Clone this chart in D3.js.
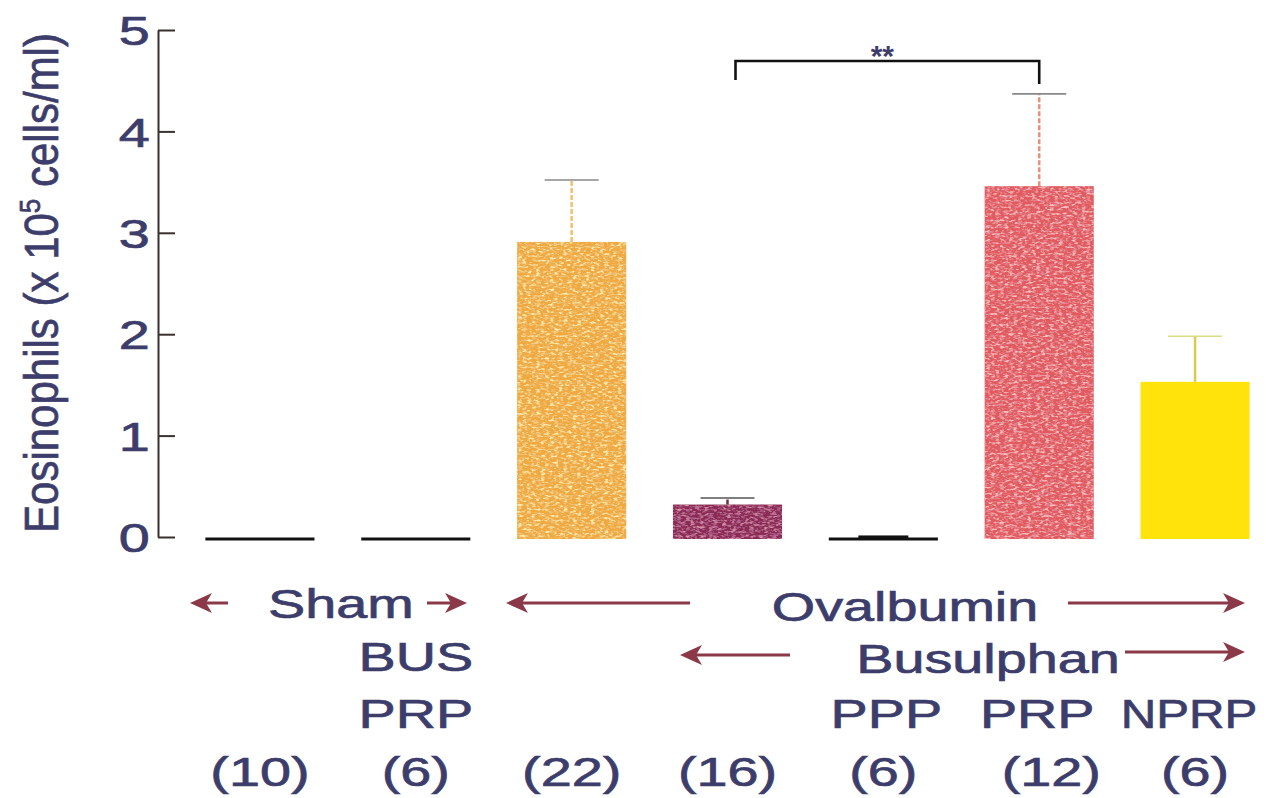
<!DOCTYPE html>
<html>
<head>
<meta charset="utf-8">
<script src="https://cdn.jsdelivr.net/npm/d3@7/dist/d3.min.js"></script>
<style>
  html, body { margin: 0; padding: 0; background: #ffffff; }
  svg { display: block; }
  text { font-family: "Liberation Sans", Arial, sans-serif; }
</style>
</head>
<body>
<svg id="chart" width="1272" height="798"></svg>
<script>
// ---------------- data ----------------
const groups = ["Sham", "Sham BUS PRP", "Ovalbumin", "OVA Busulphan", "OVA BUS PPP", "OVA BUS PRP", "OVA BUS NPRP"];
const means  = [0.01, 0.005, 2.91, 0.32, 0.02, 3.46, 1.53];
const errs   = [0.0, 0.0, 0.61, 0.065, 0.015, 0.91, 0.45];
const counts = ["(10)", "(6)", "(22)", "(16)", "(6)", "(12)", "(6)"];
const yTicks = [0, 1, 2, 3, 4, 5];
const sigPair = [3, 5];
const sigLabel = "**";

// ---------------- layout ----------------
const svg = d3.select("#chart");
const X0 = 158, Y0 = 537, Y5 = 30;
const STRETCH = 1.36;
const navy = "#3d3d6b";
const maroon = "#8b3848";

const x = d3.scaleBand().domain(d3.range(groups.length)).range([182, 1273])
  .paddingInner(0.3).paddingOuter(0.15);
const y = d3.scaleLinear().domain([0, 5]).range([Y0, Y5]);

// filters for speckled textures
const defs = svg.append("defs");
function speckle(id, light, dark, freq, seedA, seedB) {
  const f = defs.append("filter").attr("id", id)
    .attr("x", 0).attr("y", 0).attr("width", 1).attr("height", 1);
  f.append("feTurbulence").attr("type", "fractalNoise").attr("baseFrequency", freq)
    .attr("numOctaves", 2).attr("seed", seedA).attr("result", "n1");
  f.append("feColorMatrix").attr("in", "n1").attr("type", "matrix")
    .attr("values", `0 0 0 0 ${light[0]}  0 0 0 0 ${light[1]}  0 0 0 0 ${light[2]}  4 0 0 0 -2.0`)
    .attr("result", "l1");
  f.append("feComposite").attr("in", "l1").attr("in2", "SourceGraphic").attr("operator", "in").attr("result", "l2");
  f.append("feTurbulence").attr("type", "fractalNoise").attr("baseFrequency", freq)
    .attr("numOctaves", 2).attr("seed", seedB).attr("result", "n2");
  f.append("feColorMatrix").attr("in", "n2").attr("type", "matrix")
    .attr("values", `0 0 0 0 ${dark[0]}  0 0 0 0 ${dark[1]}  0 0 0 0 ${dark[2]}  4 0 0 0 -2.1`)
    .attr("result", "d1");
  f.append("feComposite").attr("in", "d1").attr("in2", "SourceGraphic").attr("operator", "in").attr("result", "d2");
  const m = f.append("feMerge");
  m.append("feMergeNode").attr("in", "SourceGraphic");
  m.append("feMergeNode").attr("in", "l2");
  m.append("feMergeNode").attr("in", "d2");
}
speckle("spkOrange", [0.99, 0.84, 0.40], [0.86, 0.55, 0.18], "0.22 0.45", 3, 11);
speckle("spkRed", [0.96, 0.52, 0.52], [0.80, 0.24, 0.30], "0.22 0.45", 5, 17);
speckle("spkMaroon", [0.70, 0.28, 0.42], [0.45, 0.12, 0.28], "0.22 0.45", 7, 19);

const barStyle = [
  null, null,
  { fill: "#f0a840", filter: "url(#spkOrange)", cap: "#888", stem: "#f2c070" },
  { fill: "#8a2c55", filter: "url(#spkMaroon)", cap: "#555", stem: "#6a3040" },
  null,
  { fill: "#e05a5e", filter: "url(#spkRed)", cap: "#888", stem: "#e8907a" },
  { fill: "#ffe30a", filter: null, cap: "#dcdc80", stem: "#d8cc50" }
];

// y axis (ticks pointing inward)
const axis = d3.axisLeft(y).tickValues(yTicks).tickSize(-17).tickSizeOuter(0).tickPadding(6)
  .tickFormat(d3.format("d"));
const ag = svg.append("g").attr("transform", `translate(${X0},0)`).call(axis);
ag.selectAll("path, line").attr("stroke", "#3a3030").attr("stroke-width", 2);
ag.selectAll("text").attr("fill", navy).attr("font-size", 41)
  .attr("stroke", navy).attr("stroke-width", 0.7)
  .attr("transform", `scale(${STRETCH},1)`).attr("dy", "0.36em");

// y label
const yl = svg.append("text").attr("transform", `translate(58,283) rotate(-90) scale(1,1.15)`)
  .attr("text-anchor", "middle").attr("fill", navy).attr("font-size", 42)
  .attr("stroke", navy).attr("stroke-width", 0.6);
yl.append("tspan").text("Eosinophils (x 10");
yl.append("tspan").text("5").attr("font-size", 26).attr("dy", -16);
yl.append("tspan").text(" cells/ml)").attr("dy", 16);

// bars
const bw = x.bandwidth();
groups.forEach((g, i) => {
  const s = barStyle[i];
  const cx = x(i) + bw / 2;
  if (s) {
    const eg = svg.append("g");
    eg.append("line").attr("x1", cx).attr("x2", cx).attr("y1", y(means[i])).attr("y2", y(means[i] + errs[i]))
      .attr("stroke", s.stem).attr("stroke-width", 2.5)
      .attr("stroke-dasharray", i === 6 ? null : "5 2");
    eg.append("line").attr("x1", cx - 27).attr("x2", cx + 27)
      .attr("y1", y(means[i] + errs[i])).attr("y2", y(means[i] + errs[i]))
      .attr("stroke", s.cap).attr("stroke-width", 1.6);
    svg.append("rect").attr("x", x(i)).attr("width", bw)
      .attr("y", y(means[i])).attr("height", y(0) - y(means[i]) + 2)
      .attr("fill", s.fill).attr("filter", s.filter);
  } else {
    svg.append("line").attr("x1", x(i)).attr("x2", x(i) + bw)
      .attr("y1", y(0) + 2).attr("y2", y(0) + 2)
      .attr("stroke", "#111").attr("stroke-width", 3);
    if (errs[i] > 0) {
      svg.append("rect").attr("x", cx - 25).attr("width", 50)
        .attr("y", y(means[i] + errs[i]) + 2).attr("height", y(0) - y(means[i] + errs[i]))
        .attr("fill", "#111");
    }
  }
});

// significance bracket
const bx1 = x(sigPair[0]) + bw / 2 + 8, bx2 = x(sigPair[1]) + bw / 2;
svg.append("path")
  .attr("d", `M${bx1},80 L${bx1},61 L${bx2},61 L${bx2},84`)
  .attr("fill", "none").attr("stroke", "#111").attr("stroke-width", 2.6);
svg.append("text").attr("x", (bx1 + bx2) / 2 - 5).attr("y", 66).attr("text-anchor", "middle")
  .attr("fill", navy).attr("font-size", 30).attr("font-weight", "bold").text(sigLabel);

// ---------------- group annotations ----------------
function label(txt, cx, by, size, stretch) {
  svg.append("text").attr("transform", `translate(${cx},${by}) scale(${stretch || STRETCH},1)`)
    .attr("text-anchor", "middle").attr("fill", navy).attr("font-size", size || 41)
    .attr("stroke", navy).attr("stroke-width", 0.7).text(txt);
}
function arrow(xTail, xHead, yy) {
  const dir = xHead > xTail ? 1 : -1;
  svg.append("line").attr("x1", xTail).attr("x2", xHead - dir * 12).attr("y1", yy).attr("y2", yy)
    .attr("stroke", maroon).attr("stroke-width", 3);
  svg.append("path")
    .attr("d", `M${xHead},${yy} L${xHead - dir * 22},${yy - 10} L${xHead - dir * 16},${yy} L${xHead - dir * 22},${yy + 10} Z`)
    .attr("fill", maroon);
}
const c = i => x(i) + bw / 2;

// row 1
label("Sham", (c(0) + c(1)) / 2 + 3, 618);
arrow(228, 190, 603);
arrow(427, 467, 603);
label("Ovalbumin", 905, 621);
arrow(690, 506, 603);
arrow(1068, 1245, 603);
// row 2
label("BUS", c(1), 671);
label("Busulphan", 988, 673);
arrow(790, 680, 655);
arrow(1125, 1245, 652);
// row 3
label("PRP", c(1), 728);
label("PPP", c(4) + 3, 728);
label("PRP", c(5) - 2, 728);
label("NPRP", c(6) - 6, 728, 41, 1.2);
// row 4: counts
const countOffsets = [0, 0, 0, 0, 0, 12, 0];
counts.forEach((t, i) => label(t, c(i) + countOffsets[i], 786));
</script>
</body>
</html>
